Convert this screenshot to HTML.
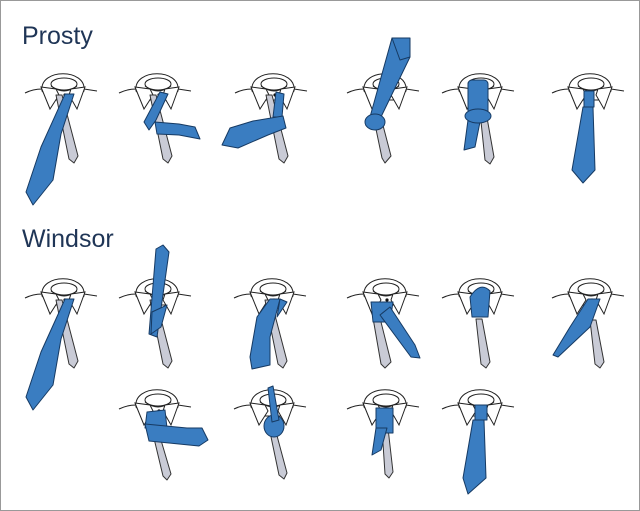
<!DOCTYPE html>
<html><head><meta charset="utf-8"><style>
html,body{margin:0;padding:0;background:#fff}
svg{display:block}
text{font-family:"Liberation Sans",sans-serif;fill:#1f3556}
.w{fill:#fff;stroke:#222;stroke-width:1}
.g{fill:#c9cbd6;stroke:#333;stroke-width:1;stroke-linejoin:round}
.b{fill:#3a7dc1;stroke:#163a63;stroke-width:1;stroke-linejoin:round}
.l{fill:none;stroke:#222;stroke-width:1}
</style></head><body>
<svg width="640" height="511" viewBox="0 0 640 511" xmlns="http://www.w3.org/2000/svg">
<defs>
<g id="c">
<path class="l" d="M-38,21 Q-30,17 -21,17 M21,17 L34,19"/>
<path class="w" d="M-21,19 C-24,-4 24,-4 21,19 L12,28 L-12,28 Z"/>
<ellipse class="w" cx="1" cy="12" rx="13" ry="6"/>
<path class="l" d="M-12,14 Q1,24 14,14"/>
<path class="w" d="M-22,15 L-13,37 L-4,23 L-7,17 Z"/>
<path class="w" d="M22,15 L14,37 L6,23 L8,17 Z"/>
<circle cx="2" cy="23" r="1.6" fill="#111"/>
</g>
<path id="G" class="g" d="M-7,23 L-1,23 L15,84 L11,91 L6,87 Z"/>
</defs>
<rect x="0.5" y="0.5" width="639" height="510" fill="none" stroke="#999"/>
<text x="22" y="44" font-size="25">Prosty</text>
<text x="22" y="247" font-size="25">Windsor</text>

<!-- Row 1 -->
<g transform="translate(63,72)"><use href="#c"/><use href="#G"/>
<path class="b" d="M2,22 L11,22 L-2,62 L-10,108 L-30,133 L-37,120 L-22,75 Z"/></g>
<g transform="translate(157,72)"><use href="#c"/><use href="#G"/>
<path class="b" d="M3,20 L11,22 L-1,48 L-8,58 L-13,50 Z"/>
<path class="b" d="M-2,50 L22,52 L38,55 L43,67 L22,63 L0,62 Z"/></g>
<g transform="translate(273,72)"><use href="#c"/><use href="#G"/>
<path class="b" d="M3,20 L11,22 L9,45 L0,45 Z"/>
<path class="b" d="M10,44 L13,56 L-5,63 L-35,76 L-51,73 L-43,56 L-20,49 Z"/></g>
<g transform="translate(385,72)"><use href="#c"/>
<path class="g" d="M-13,38 L-6,38 L6,84 L0,91 L-3,86 Z"/>
<path class="b" d="M-15,45 L-5,47 L25,-15 L7,-34 Z"/>
<path class="b" d="M7,-34 L25,-34 L25,-15 L15,-12 Z"/>
<ellipse class="b" cx="-10" cy="50" rx="10" ry="8"/></g>
<g transform="translate(480,72)"><use href="#c"/>
<path class="g" d="M0,40 L6,40 L14,85 L10,92 L5,88 Z"/>
<rect class="b" x="-12" y="8" width="20" height="38" rx="4"/>
<path class="b" d="M-12,48 L0,50 L-5,75 L-16,78 Z"/>
<ellipse class="b" cx="-2" cy="44" rx="13" ry="7"/></g>
<g transform="translate(590,72)"><use href="#c"/>
<path class="b" d="M-7,35 L3,35 L5,98 L-7,111 L-18,98 Z"/>
<path class="b" d="M-6,19 L4,19 L4,35 L-6,35 Z"/></g>

<!-- Row 2 -->
<g transform="translate(63,277)"><use href="#c"/><use href="#G"/>
<path class="b" d="M2,22 L11,22 L-2,62 L-10,108 L-30,133 L-37,120 L-22,75 Z"/></g>
<g transform="translate(157,277)"><use href="#c"/><use href="#G"/>
<path class="b" d="M-8,57 L0,60 L12,-25 L6,-32 L-1,-28 Z"/>
<path class="b" d="M-5,35 L10,28 L4,50 L-6,57 Z"/></g>
<g transform="translate(272,277)"><use href="#c"/><use href="#G"/>
<path class="b" d="M-2,22 L8,22 L-2,60 L-2,88 L-20,92 L-22,80 L-15,40 Z"/>
<path class="b" d="M8,22 L15,25 L5,40 Z"/></g>
<g transform="translate(385,277)"><use href="#c"/>
<path class="g" d="M-12,41 L-5,41 L6,85 L0,91 L-4,87 Z"/>
<path class="b" d="M-14,25 L8,25 L5,45 L-12,45 Z"/>
<path class="b" d="M-5,38 L5,30 L30,68 L35,81 L26,80 Z"/></g>
<g transform="translate(480,277)"><use href="#c"/>
<path class="g" d="M-4,42 L2,42 L10,85 L6,91 L1,87 Z"/>
<path class="b" d="M-10,20 Q0,4 10,14 L8,40 L-8,40 Z"/></g>
<g transform="translate(590,277)"><use href="#c"/>
<path class="g" d="M0,43 L6,43 L14,85 L10,91 L5,87 Z"/>
<path class="b" d="M-2,22 L10,22 L0,50 L-32,80 L-37,78 L-20,50 Z"/></g>

<!-- Row 3 -->
<g transform="translate(157,388)"><use href="#c"/>
<path class="g" d="M-5,42 L1,42 L14,86 L10,92 L6,88 Z"/>
<path class="b" d="M-10,24 L8,22 L10,40 L-12,40 Z"/>
<path class="b" d="M-12,36 L30,40 L45,40 L51,52 L42,58 L-8,53 Z"/></g>
<g transform="translate(272,388)"><use href="#c"/>
<path class="g" d="M-2,44 L4,44 L15,85 L12,91 L7,87 Z"/>
<ellipse class="b" cx="2" cy="38" rx="10" ry="11"/>
<path class="b" d="M-4,0 L1,-2 L7,32 L0,34 Z"/></g>
<g transform="translate(385,388)"><use href="#c"/>
<path class="g" d="M-3,40 L3,40 L8,84 L4,90 L0,86 Z"/>
<path class="b" d="M-9,20 L8,20 L8,45 L-9,45 Z"/>
<path class="b" d="M-9,40 L2,40 L-4,62 L-13,67 Z"/></g>
<g transform="translate(480,388)"><use href="#c"/>
<path class="b" d="M-7,32 L4,32 L6,90 L-12,106 L-17,90 Z"/>
<path class="b" d="M-5,17 L7,17 L7,32 L-5,32 Z"/></g>
</svg>
</body></html>
